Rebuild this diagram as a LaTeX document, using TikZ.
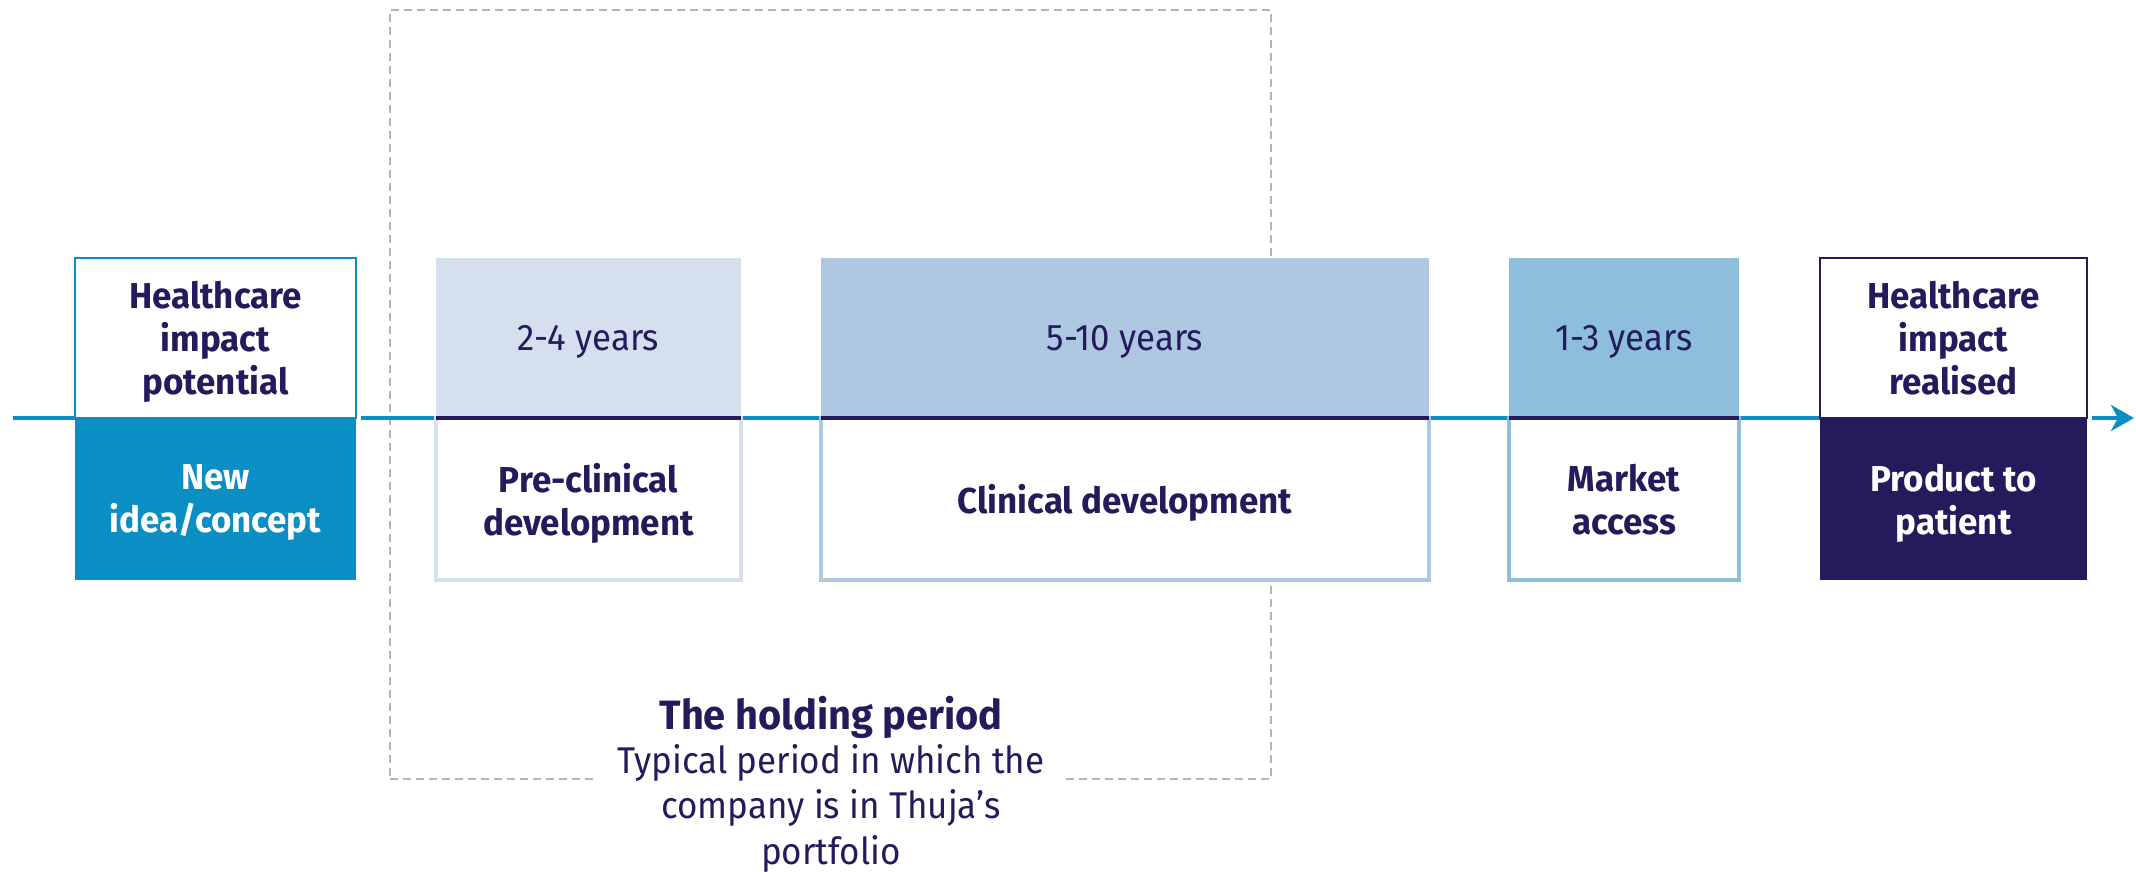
\documentclass[tikz,border=0pt]{standalone}
\usepackage{fontspec}
\setmainfont{Fira Sans}[UprightFeatures={FakeStretch=0.94}, BoldFeatures={FakeStretch=0.97}]
\usetikzlibrary{arrows.meta,backgrounds}
\definecolor{navy}{HTML}{241A5C}
\definecolor{tblue}{HTML}{0A8EC3}
\definecolor{pcfill}{HTML}{D4E0EE}
\definecolor{cdfill}{HTML}{ADC8E0}
\definecolor{mafill}{HTML}{8DBFDD}
\definecolor{dgray}{HTML}{B3B3B3}
\begin{document}
\begin{tikzpicture}[x=1pt,y=-1pt,
  lbl/.style={font=\fontsize{18}{21.5}\selectfont\bfseries, text=navy, align=center, text depth=0pt},
  yrs/.style={font=\fontsize{18.5}{21}\selectfont, text=navy, align=center, text depth=0pt},
  half/.style={anchor=north west, inner sep=0pt, outer sep=0pt},
  tl/.style={draw=tblue, line width=2.25pt},
  divider/.style={draw=navy, line width=2pt},
  lowbox/.style={half, fill=white, line width=1.75pt, minimum height=81pt, lbl},
  upbox/.style={half, minimum height=80pt},
]
\useasboundingbox (0,0) rectangle (1068,436);

% phase boxes
\node[upbox, draw=tblue, line width=1.25pt, fill=white, minimum width=140.5pt, lbl] (potU) at (37.5,129) {Healthcare\\impact\\potential};
\node[half, fill=tblue, minimum width=140.5pt, minimum height=81pt, lbl, text=white] (newL) at (37.5,209) {New\\idea/concept};

\node[upbox, fill=pcfill, minimum width=152.5pt, yrs] (preU) at (218,129) {2-4 years};
\node[lowbox, draw=pcfill, minimum width=152.5pt] (preL) at (218,209) {Pre-clinical\\development};

\node[upbox, fill=cdfill, minimum width=304pt, yrs] (cliU) at (410.5,129) {5-10 years};
\node[lowbox, draw=cdfill, minimum width=304pt] (cliL) at (410.5,209) {Clinical development};

\node[upbox, fill=mafill, minimum width=115pt, yrs] (marU) at (754.5,129) {1-3 years};
\node[lowbox, draw=mafill, minimum width=115pt] (marL) at (754.5,209) {Market\\access};

\node[upbox, draw=navy, line width=1.25pt, fill=white, minimum width=133.5pt, lbl] (reaU) at (910,129) {Healthcare\\impact\\realised};
\node[half, fill=navy, minimum width=133.5pt, minimum height=81pt, lbl, text=white] (prodL) at (910,209) {Product to\\patient};

\draw[divider] (preU.south west) -- (preU.south east);
\draw[divider] (cliU.south west) -- (cliU.south east);
\draw[divider] (marU.south west) -- (marU.south east);

% background: holding period box and timeline
\coordinate (start) at (6.5,209);
\coordinate (end) at (1067,209);
\begin{pgfonlayer}{background}
\node[half, draw=dgray, line width=1pt, dash pattern=on 4pt off 2.5pt, minimum width=440.5pt, minimum height=384.5pt] (hold) at (195,5) {};
\draw[tl] (start) -- (newL.north west);
\draw[tl] ([xshift=2.5pt]newL.north east) -- (prodL.north west);
\end{pgfonlayer}
\draw[tl,-{Stealth[length=11.5pt,width=13pt,inset=3.5pt]}] ([xshift=2.5pt]prodL.north east) -- (end);

% holding period text
\node[font=\fontsize{20.5}{25}\selectfont\bfseries, text=navy] (title) at (415.5,358.5) {The holding period};
\node[fill=white, font=\fontsize{18.6}{22.8}\selectfont, text=navy, align=center, inner xsep=10pt, inner ysep=1pt, anchor=north] (sub) at (415.5,370.8) {Typical period in which the\\company is in Thuja’s\\portfolio};
\end{tikzpicture}
\end{document}
